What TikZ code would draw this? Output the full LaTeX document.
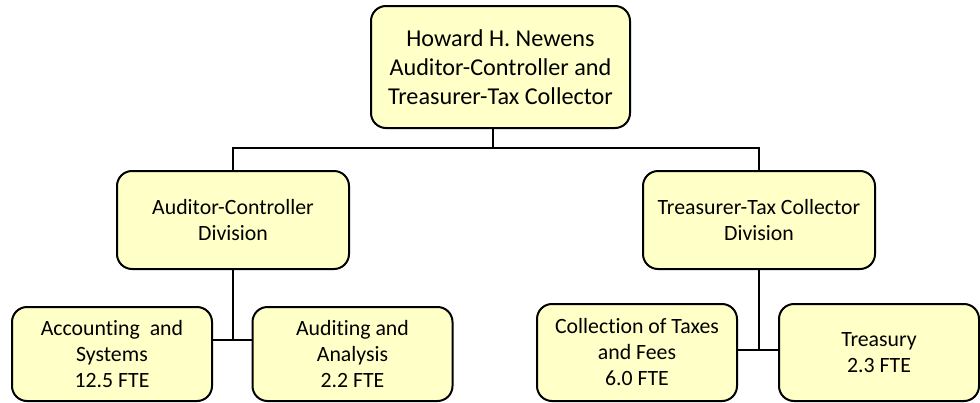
\documentclass[tikz,border=0pt]{standalone}
\usepackage{fontspec}
\setmainfont{Carlito}[Ligatures=NoCommon]
\usepackage{tikz}
\usepackage{xcolor}
\definecolor{boxfill}{RGB}{255,255,200}

\begin{document}
\begin{tikzpicture}[x=0.5pt, y=-0.5pt,
    orgbox/.style={draw, line width=1pt, fill=boxfill, rounded corners=7.5pt,
      align=center, inner sep=0pt, font=\fontsize{10.9}{13}\selectfont},
    chiefbox/.style={orgbox, minimum width=129.5pt, minimum height=61pt,
      font=\fontsize{12.1}{14.5}\selectfont},
    divbox/.style={orgbox, minimum width=116pt, minimum height=49pt},
    unitbox/.style={orgbox, minimum width=100pt, minimum height=47pt},
    link/.style={line width=1pt}]
  \useasboundingbox (0,0) rectangle (980,402);
  % top
  \node[chiefbox] (chief) at (500.5,67)
    {Howard H. Newens\\Auditor-Controller and\\Treasurer-Tax Collector};
  % divisions
  \node[divbox] (acdiv) at (233,220) {Auditor-Controller\\Division};
  \node[divbox] (ttcdiv) at (759,220) {Treasurer-Tax Collector\\Division};
  % units
  \node[unitbox] (accsys) at (112,354) {Accounting~ and\\Systems\\12.5 FTE};
  \node[unitbox] (audana) at (352.5,354) {Auditing and\\Analysis\\2.2 FTE};
  \node[unitbox, minimum height=48.5pt] (coltax) at (637,352.5)
    {Collection of Taxes\\and Fees\\6.0 FTE};
  \node[unitbox, minimum height=48.5pt] (treas) at (879,352.5)
    {Treasury\\2.3 FTE};
  % connectors
  \coordinate (hub) at (493,148);
  \coordinate (acjoin) at (233,340);
  \coordinate (ttcjoin) at (759,350);
  \draw[link] (chief.south -| hub) -- (hub);
  \draw[link] (acdiv.north) |- (hub) -| (ttcdiv.north);
  \draw[link] (acdiv.south) -- (acjoin);
  \draw[link] (accsys.east |- acjoin) -- (audana.west |- acjoin);
  \draw[link] (ttcdiv.south) -- (ttcjoin);
  \draw[link] (coltax.east |- ttcjoin) -- (treas.west |- ttcjoin);
\end{tikzpicture}
\end{document}
